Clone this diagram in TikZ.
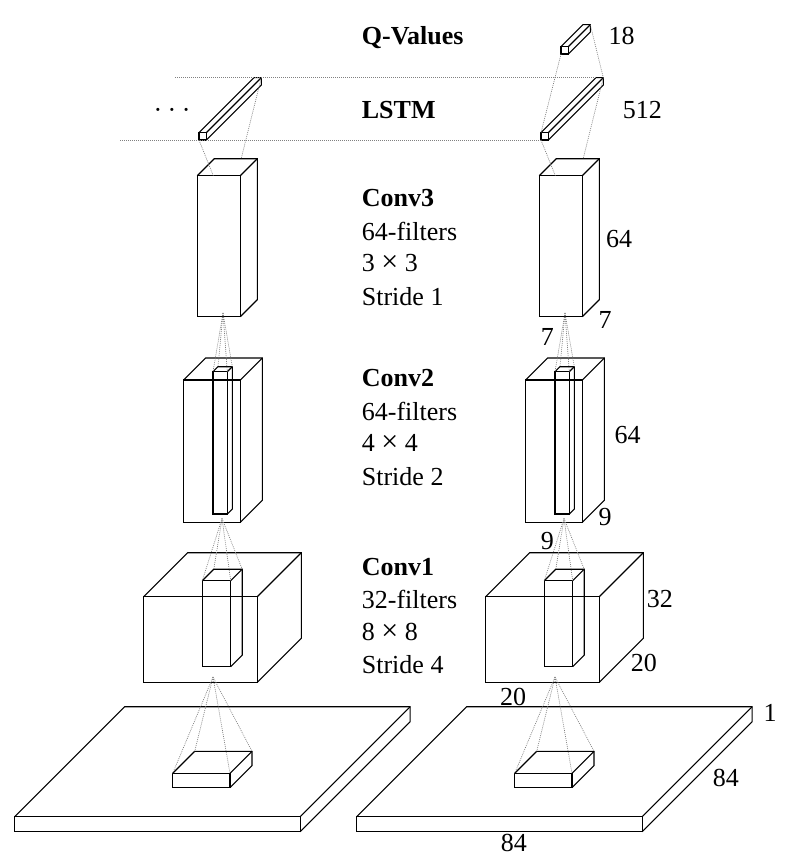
\documentclass[tikz,border=0pt]{standalone}
\usepackage{fontspec}
\setmainfont{Liberation Serif}
\usetikzlibrary{calc}
% #1 name, #2 x, #3 y (front top-left), #4 width, #5 height, #6 depth
\newcommand\drawbox[6]{%
  \draw[boxline] (#2,#3) coordinate (#1-ftl) rectangle ++(#4,#5) coordinate (#1-fbr);
  \draw[boxline] (#1-ftl) -- ++(#6,-#6) coordinate (#1-btl) -- ++(#4,0) coordinate (#1-btr)
     -- ++(0,#5) coordinate (#1-bbr) -- (#1-fbr);
  \draw[boxline] (#1-btr) -- ++(-#6,#6) coordinate (#1-ftr);
  \coordinate (#1-fbl) at ($(#1-ftl)+(0,#5)$);
}
\newcommand\bigtimes{{\fontsize{30}{32}\selectfont ×}}
\begin{document}
\begin{tikzpicture}[x=1pt,y=-1pt,
  boxline/.style={line width=1.1pt, line join=miter},
  conn/.style={draw=black!50, line width=0.7pt, dash pattern=on 0.9pt off 1.1pt},
  lbl/.style={inner sep=0pt, anchor=base west, font=\fontsize{26}{32}\selectfont},
  hd/.style={lbl, font=\fontsize{26}{32}\selectfont\bfseries}]
\useasboundingbox (0,0) rectangle (792,856);

\foreach \c/\o in {L/0,R/342}{
  \drawbox{\c plate}{14.7+\o}{816.7}{285.4}{15}{110}
  \drawbox{\c pf}{172.7+\o}{773.3}{57.3}{14.4}{22}
  \drawbox{\c c1}{143.7+\o}{596.7}{113.6}{85.6}{44}
  \drawbox{\c c1f}{202.3+\o}{580.7}{28.4}{86}{11.5}
  \drawbox{\c c2}{183.7+\o}{380}{56.6}{142.3}{22}
  \drawbox{\c c2f}{213+\o}{371.7}{14.3}{142.3}{5}
  \drawbox{\c c3}{197.3+\o}{175.7}{43}{141}{17}
  \drawbox{\c lstm}{199+\o}{132.7}{7.3}{7.3}{55}
  \coordinate (\c a1) at (213+\o,677);
  \coordinate (\c a2) at (222+\o,518.5);
  \coordinate (\c a3) at (223+\o,313);
  \coordinate (\c t1) at (213.3+\o,175.7);
  \coordinate (\c t2) at (241.1+\o,159);
  \foreach \k in {ftl,btl,ftr,btr}{
    \draw[conn] (\c a1) -- (\c pf-\k);
    \draw[conn] (\c a2) -- (\c c1f-\k);
    \draw[conn] (\c a3) -- (\c c2f-\k);
  }
  \draw[conn] (\c lstm-fbl) -- (\c t1);
  \draw[conn] (\c lstm-btr) -- (\c t2);
}

% Q-values
\drawbox{q}{561}{46.7}{7.3}{7.3}{22}
\draw[conn] (q-fbl) -- (Rlstm-ftl);
\draw[conn] (q-btr) -- (Rlstm-btr);

% horizontal dotted guides
\coordinate (hl1) at (175,77.7);
\coordinate (hl2) at (120,140);
\draw[conn] (hl1) -- (Rlstm-btl);
\draw[conn] (hl2) -- (Rlstm-fbl);

\node[inner sep=0pt, anchor=base, font=\fontsize{26}{32}\selectfont] (dots) at (172,119) {·\kern5.5pt·\kern5.5pt·};

% layer descriptions
\node[hd] (tq) at (361.7,45) {Q-Values};
\node[hd] (tl) at (361.7,118.3) {LSTM};
\node[hd] (t3a) at (361.7,206.7) {Conv3};
\node[lbl] (t3b) at (361.7,240) {64-filters};
\node[lbl] (t3c) at (361.7,271.7) {3 \bigtimes{} 3};
\node[lbl] (t3d) at (361.7,305) {Stride 1};
\node[hd] (t2a) at (361.7,386.7) {Conv2};
\node[lbl] (t2b) at (361.7,420) {64-filters};
\node[lbl] (t2c) at (361.7,451.7) {4 \bigtimes{} 4};
\node[lbl] (t2d) at (361.7,485) {Stride 2};
\node[hd] (t1a) at (361.7,575) {Conv1};
\node[lbl] (t1b) at (361.7,608.3) {32-filters};
\node[lbl] (t1c) at (361.7,640) {8 \bigtimes{} 8};
\node[lbl] (t1d) at (361.7,673.3) {Stride 4};

% dimensions
\node[lbl] (d18) at (608.3,45) {18};
\node[lbl] (d512) at (622.7,118.3) {512};
\node[lbl] (d64a) at (606,247.7) {64};
\node[lbl] (d7a) at (598.3,328.3) {7};
\node[lbl] (d7b) at (540.7,345) {7};
\node[lbl] (d64b) at (614.3,443.3) {64};
\node[lbl] (d9a) at (598.3,525) {9};
\node[lbl] (d9b) at (540.7,549) {9};
\node[lbl] (d32) at (646.7,607.7) {32};
\node[lbl] (d20a) at (630.7,671.7) {20};
\node[lbl] (d20b) at (500,705.7) {20};
\node[lbl] (d1) at (763.3,721) {1};
\node[lbl] (d84a) at (712.7,786.7) {84};
\node[lbl] (d84b) at (500.7,851.7) {84};
\end{tikzpicture}
\end{document}
